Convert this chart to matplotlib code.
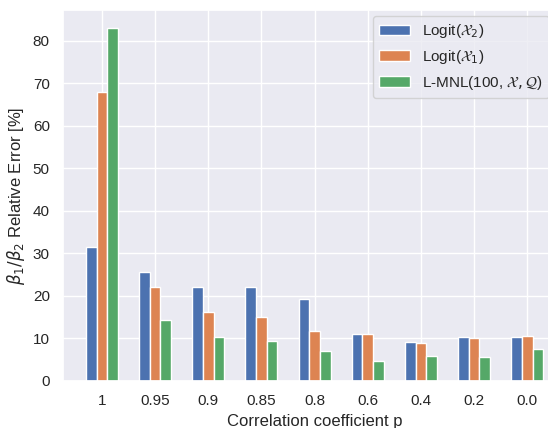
import matplotlib
matplotlib.use("Agg")
import matplotlib.pyplot as plt
import numpy as np
import seaborn as sns

sns.set_theme(style="darkgrid")
plt.rcParams['font.family'] = ['Liberation Sans', 'DejaVu Sans']

# relative error of beta1/beta2 for each correlation level
corr_labels = ['1', '0.95', '0.9', '0.85', '0.8', '0.6', '0.4', '0.2', '0.0']
logit_x2 = [31.6, 25.5, 22.0, 22.2, 19.3, 11.1, 9.1, 10.4, 10.4]
logit_x1 = [67.9, 22.0, 16.3, 15.0, 11.8, 11.1, 8.9, 10.1, 10.5]
lmnl = [83.1, 14.3, 10.4, 9.4, 7.1, 4.8, 5.9, 5.6, 7.5]

series = [logit_x2, logit_x1, lmnl]
names = [r'Logit($\mathcal{X}_2$)', r'Logit($\mathcal{X}_1$)',
         r'L-MNL(100, $\mathcal{X}, \mathcal{Q}$)']
colors = sns.color_palette()[:3]

fig = plt.figure(figsize=(5.48, 4.28), dpi=100)
ax = fig.add_axes([0.115, 0.110, 0.918, 0.867])

x = np.arange(len(corr_labels))
w = 0.2
for i, (vals, name, c) in enumerate(zip(series, names, colors)):
    ax.bar(x + (i - 1) * w, vals, w, label=name, color=c)

ax.set_xticks(x)
ax.set_xticklabels(corr_labels)
ax.set_xlim(-0.73, 8.73)
ax.set_ylabel(r'$\beta_1/\beta_2$ Relative Error [%]')
ax.set_xlabel('Correlation coefficient p', labelpad=4)
ax.legend(loc='upper left', bbox_to_anchor=(0.681, 0.962),
          bbox_transform=fig.transFigure, borderaxespad=0)

fig.savefig('out.png', dpi=100)
